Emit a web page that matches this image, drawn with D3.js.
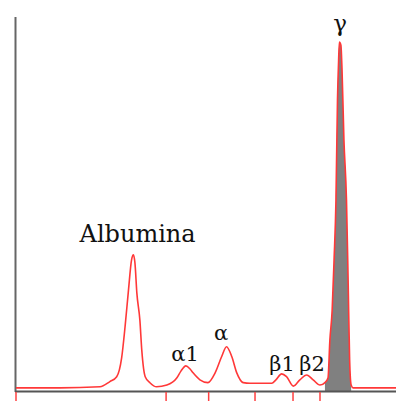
<!DOCTYPE html>
<html><head><meta charset="utf-8">
<script src="https://cdn.jsdelivr.net/npm/d3@7"></script>
<style>html,body{margin:0;padding:0;background:#fff;}svg{display:block;}</style>
</head><body>
<svg id="c" width="396" height="403"></svg>
<script>
// Electrophoresis density trace (arbitrary mobility units 0-100, relative height 0-100)
const mobility = [0,11.6,22.1,24.7,26.5,27.8,28.7,29.6,30.4,30.9,31.3,31.8,32.6,33.1,34.0,35.3,37.0,39.7,42.3,43.4,44.7,45.8,46.6,48.4,50.5,52.4,54.1,55.4,56.8,58.1,59.8,61.6,67.3,68.4,69.9,71.2,73.0,74.7,76.5,78.2,80.0,81.3,82.1,82.6,83.2,83.7,84.2,84.6,84.9,85.1,85.5,85.8,86.3,86.97,87.4,87.8,88.2,88.7,100];
const density  = [0.9,0.9,1.2,2.7,4.1,9.5,18.4,28.9,37.5,39.0,36.7,28.1,20.3,11.7,4.1,2.3,1.2,1.7,3.7,5.7,7.2,6.3,5.2,3.2,2.4,5.2,9.8,12.7,9.8,5.2,2.4,2.2,2.2,3.2,4.9,4.1,1.4,3.2,4.6,3.2,1.7,2.4,3.7,14.6,23.2,37.5,54.7,83.4,94.8,100,99.1,92.0,71.9,54.7,31.8,8.9,1.7,0.9,0.9];
// fraction boundaries (tick marks)
const boundaries = [0,39.5,50.7,62.9,72.9,80.0];
// highlighted fraction range (gamma)
const highlight = [81.3,88.2];
// labels
const labels = ["Albumina","α1","α","β1","β2","γ"];
const labelX = [32.0,44.5,54.0,70.0,77.9,85.3];
const labelY = [42.6,8.6,14.6,5.7,5.7,103.2];

const svg = d3.select("#c");
const x = d3.scaleLinear().domain([0,100]).range([16,396]);
const y = d3.scaleLinear().domain([0,100]).range([391,42]);
const pts = mobility.map((m,i)=>({m, d:density[i]}));

// gray filled region
const area = d3.area().x(p=>x(p.m)).y0(y(0)).y1(p=>y(p.d)).curve(d3.curveMonotoneX);
svg.append("path").datum(pts.filter(p=>p.m>=highlight[0] && p.m<=highlight[1]))
  .attr("d",area).attr("fill","#808080");

// axes
svg.append("line").attr("x1",15.5).attr("x2",15.5).attr("y1",17).attr("y2",392)
  .attr("stroke","#666").attr("stroke-width",2);
svg.append("line").attr("x1",15).attr("x2",396).attr("y1",y(0)+0.5).attr("y2",y(0)+0.5)
  .attr("stroke","#555").attr("stroke-width",2);

// boundary ticks
svg.selectAll("line.tick").data(boundaries).join("line").attr("class","tick")
  .attr("x1",d=>x(d)).attr("x2",d=>x(d)).attr("y1",y(0)+1).attr("y2",y(0)+10)
  .attr("stroke","#ff4040").attr("stroke-width",1.5);

// trace
const line = d3.line().x(p=>x(p.m)).y(p=>y(p.d)).curve(d3.curveMonotoneX);
svg.append("path").datum(pts).attr("d",line).attr("fill","none")
  .attr("stroke","#ff3838").attr("stroke-width",1.6).attr("stroke-linejoin","round");

// labels
svg.selectAll("text.lab").data(labels).join("text").attr("class","lab")
  .attr("x",(d,i)=>x(labelX[i])).attr("y",(d,i)=>y(labelY[i]))
  .attr("text-anchor","middle")
  .attr("font-family","DejaVu Serif, serif")
  .attr("font-size",(d,i)=>i===0?24:(i===5?23:21))
  .attr("fill","#111")
  .text(d=>d);
</script>
</body></html>
